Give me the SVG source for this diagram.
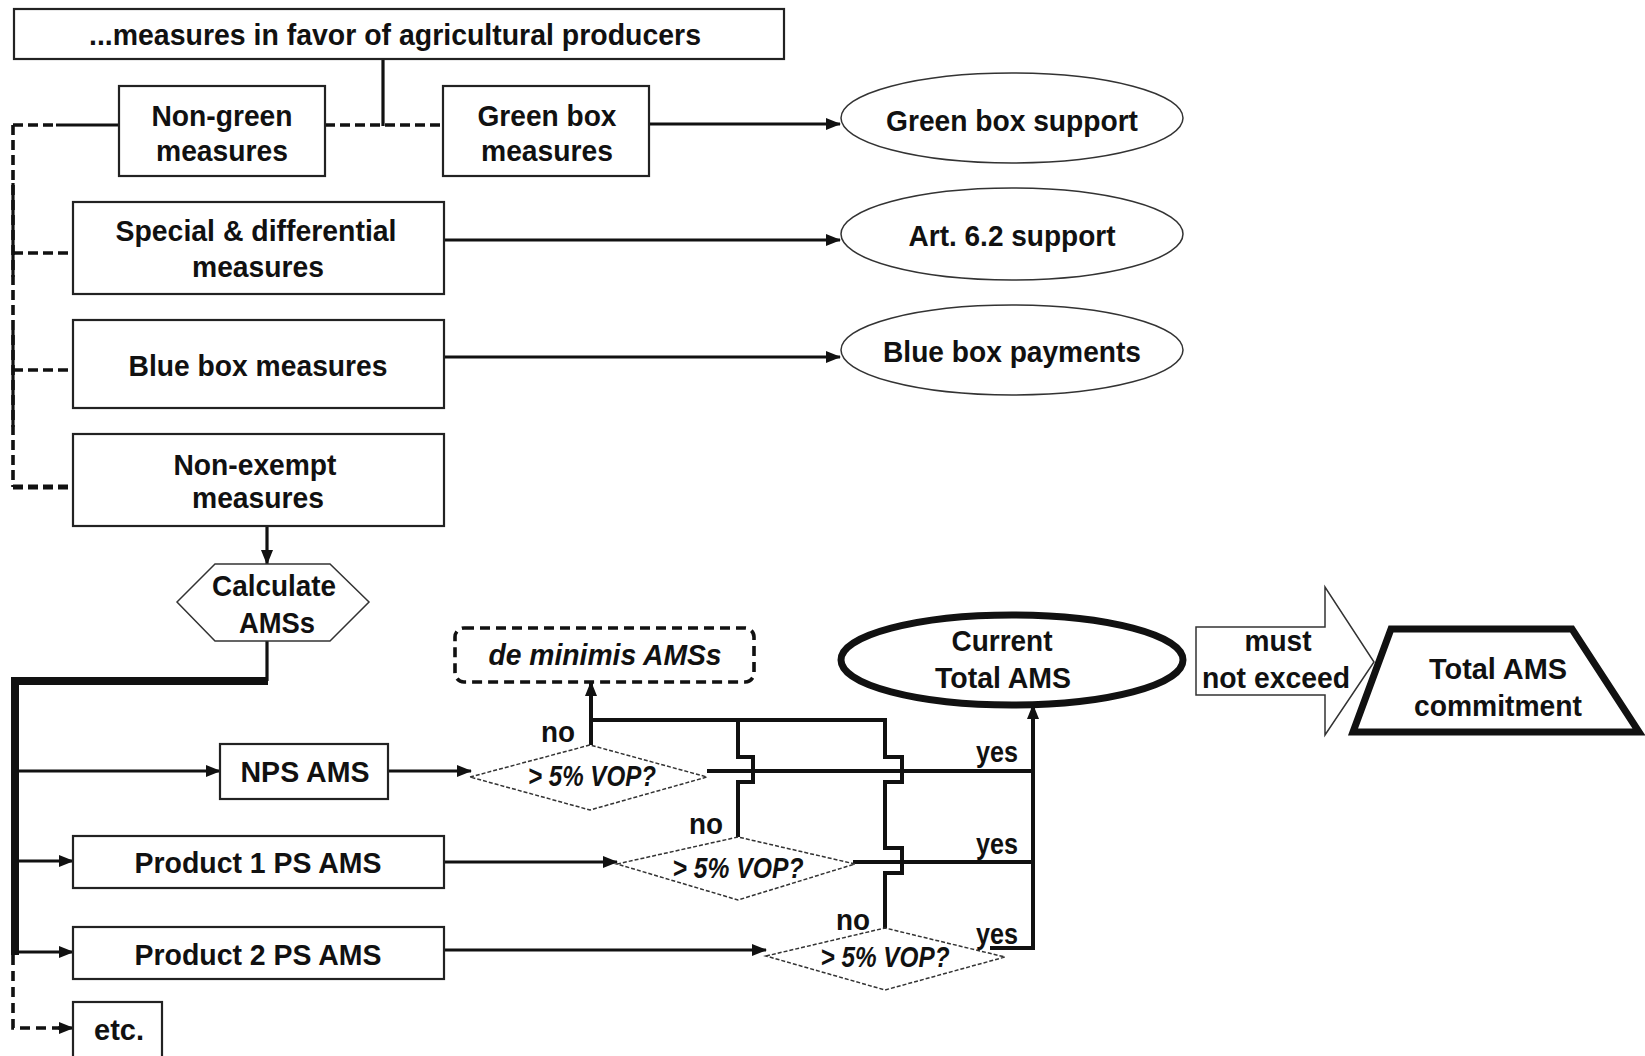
<svg xmlns="http://www.w3.org/2000/svg" width="1645" height="1056" viewBox="0 0 1645 1056">
<style>
.t{font-family:"Liberation Sans",Arial,sans-serif;font-weight:bold;font-size:30px;fill:#111;text-anchor:middle}
.i{font-style:italic}
.box{fill:#fff;stroke:#222;stroke-width:2.2}
.thin{fill:#fff;stroke:#333;stroke-width:1.5}
.dia{fill:#fff;stroke:#333;stroke-width:1.5;stroke-dasharray:4 2}
.ln{fill:none;stroke:#111;stroke-width:3.2}
.bl{fill:none;stroke:#111;stroke-width:4}
.ds{fill:none;stroke:#111;stroke-width:3.6;stroke-dasharray:10 5}
.ar{marker-end:url(#ah)}
</style>
<defs>
<marker id="ah" markerUnits="userSpaceOnUse" markerWidth="16" markerHeight="14" refX="14" refY="6" orient="auto">
<path d="M0,0 L15,6 L0,12 Z" fill="#111"/>
</marker>
</defs>
<rect width="1645" height="1056" fill="#fff"/>

<g id="connectors">
<path class="ln" d="M383,59 V126"/>
<path class="ds" d="M325,125 H443"/>
<path class="ds" d="M13,125 V487"/>
<path class="ln" d="M13,183 V277 M13,330 V427"/>
<path class="ds" d="M13,125 H56"/>
<path class="ln" d="M56,125 H119"/>
<path class="ds" d="M13,253 H73"/>
<path class="ds" d="M13,370 H73"/>
<path class="ds" d="M13,487 H73" style="stroke-width:5"/>
<path class="ln ar" d="M649,124 H840"/>
<path class="ln ar" d="M444,240 H840"/>
<path class="ln ar" d="M444,357 H840"/>
<path class="ln ar" d="M267,526 V564"/>
<path class="ln" d="M267,641 V681"/>
<path fill="none" stroke="#111" stroke-width="8" d="M268,681 H15 V955"/>
<path fill="none" stroke="#111" stroke-width="3.6" stroke-dasharray="10 6" d="M13,955 V1028 H60"/>
<path class="ln ar" d="M58,1028 H73"/>
<path class="ln ar" d="M19,771 H220"/>
<path class="ln ar" d="M19,861 H73"/>
<path class="ln ar" d="M19,952 H73"/>
<path class="ln ar" d="M388,771 H471"/>
<path class="ln ar" d="M444,862 H617"/>
<path class="ln ar" d="M444,950 H766"/>
<path class="bl ar" d="M591,745 V682"/>
<path class="bl" d="M591,720 H887"/>
<path class="bl" d="M738,720 V757 H753 V782 H738 V837"/>
<path class="bl" d="M885,720 V757 H902 V782 H885 V848 H902 V873 H885 V928"/>
<path class="bl" d="M707,771 H1033"/>
<path class="bl" d="M853,862 H1033"/>
<path class="bl" d="M990,948 H1033"/>
<path class="bl ar" d="M1033,950 V705"/>
</g>

<g id="n-top"><rect class="box" x="14" y="9" width="770" height="50"/>
<text class="t" x="395" y="45" font-size="28" textLength="612" lengthAdjust="spacingAndGlyphs">...measures in favor of agricultural producers</text></g>

<g id="n-nongreen"><rect class="box" x="119" y="86" width="206" height="90"/>
<text class="t" x="222" y="126" textLength="141" lengthAdjust="spacingAndGlyphs">Non-green</text>
<text class="t" x="222" y="161" textLength="132" lengthAdjust="spacingAndGlyphs">measures</text></g>

<g id="n-greenbox"><rect class="box" x="443" y="86" width="206" height="90"/>
<text class="t" x="547" y="126" textLength="139" lengthAdjust="spacingAndGlyphs">Green box</text>
<text class="t" x="547" y="161" textLength="132" lengthAdjust="spacingAndGlyphs">measures</text></g>

<g id="n-special"><rect class="box" x="73" y="202" width="371" height="92"/>
<text class="t" x="256" y="241" textLength="281" lengthAdjust="spacingAndGlyphs">Special &amp; differential</text>
<text class="t" x="258" y="277" textLength="132" lengthAdjust="spacingAndGlyphs">measures</text></g>

<g id="n-blue"><rect class="box" x="73" y="320" width="371" height="88"/>
<text class="t" x="258" y="376" font-size="32" textLength="259" lengthAdjust="spacingAndGlyphs">Blue box measures</text></g>

<g id="n-nonexempt"><rect class="box" x="73" y="434" width="371" height="92"/>
<text class="t" x="255" y="475" textLength="163" lengthAdjust="spacingAndGlyphs">Non-exempt</text>
<text class="t" x="258" y="508" textLength="132" lengthAdjust="spacingAndGlyphs">measures</text></g>

<g id="n-calc"><path class="thin" d="M177,602 L215,564 L330,564 L369,602 L330,641 L215,641 Z"/>
<text class="t" x="274" y="596" textLength="124" lengthAdjust="spacingAndGlyphs">Calculate</text>
<text class="t" x="277" y="633" textLength="76" lengthAdjust="spacingAndGlyphs">AMSs</text></g>

<g id="n-gbsupport"><ellipse class="thin" cx="1012" cy="118" rx="171" ry="45"/>
<text class="t" x="1012" y="131" textLength="252" lengthAdjust="spacingAndGlyphs">Green box support</text></g>

<g id="n-art62"><ellipse class="thin" cx="1012" cy="234" rx="171" ry="46"/>
<text class="t" x="1012" y="246" textLength="207" lengthAdjust="spacingAndGlyphs">Art. 6.2 support</text></g>

<g id="n-bbpay"><ellipse class="thin" cx="1012" cy="350" rx="171" ry="45"/>
<text class="t" x="1012" y="362" textLength="258" lengthAdjust="spacingAndGlyphs">Blue box payments</text></g>

<g id="n-deminimis"><rect x="455" y="628" width="299" height="54" rx="9" fill="#fff" stroke="#111" stroke-width="3.6" stroke-dasharray="10 6"/>
<text class="t i" x="605" y="665" font-size="28" textLength="233" lengthAdjust="spacingAndGlyphs">de minimis AMSs</text></g>

<g id="n-nps"><rect class="box" x="220" y="744" width="168" height="55"/>
<text class="t" x="305" y="782" textLength="129" lengthAdjust="spacingAndGlyphs">NPS AMS</text></g>

<g id="n-p1"><rect class="box" x="73" y="836" width="371" height="52"/>
<text class="t" x="258" y="873" textLength="247" lengthAdjust="spacingAndGlyphs">Product 1 PS AMS</text></g>

<g id="n-p2"><rect class="box" x="73" y="927" width="371" height="52"/>
<text class="t" x="258" y="965" textLength="247" lengthAdjust="spacingAndGlyphs">Product 2 PS AMS</text></g>

<g id="n-etc"><rect class="box" x="73" y="1002" width="89" height="62"/>
<text class="t" x="119" y="1040" textLength="50" lengthAdjust="spacingAndGlyphs">etc.</text></g>

<g id="n-d1"><path class="dia" d="M470,777 L590,745 L707,777 L590,810 Z"/>
<text class="t i" x="592" y="786" font-size="24" textLength="128" lengthAdjust="spacingAndGlyphs">&gt; 5% VOP?</text></g>

<g id="n-d2"><path class="dia" d="M617,864 L738,837 L855,864 L738,900 Z"/>
<text class="t i" x="738" y="878" font-size="24" textLength="131" lengthAdjust="spacingAndGlyphs">&gt; 5% VOP?</text></g>

<g id="n-d3"><path class="dia" d="M766,956 L885,928 L1005,957 L885,990 Z"/>
<text class="t i" x="885" y="967" font-size="24" textLength="129" lengthAdjust="spacingAndGlyphs">&gt; 5% VOP?</text></g>

<g id="labels">
<text class="t" x="558" y="742" font-size="30" textLength="34" lengthAdjust="spacingAndGlyphs">no</text>
<text class="t" x="706" y="834" font-size="30" textLength="34" lengthAdjust="spacingAndGlyphs">no</text>
<text class="t" x="853" y="930" font-size="30" textLength="34" lengthAdjust="spacingAndGlyphs">no</text>
<text class="t" x="997" y="762" font-size="27" textLength="42" lengthAdjust="spacingAndGlyphs">yes</text>
<text class="t" x="997" y="854" font-size="27" textLength="42" lengthAdjust="spacingAndGlyphs">yes</text>
<text class="t" x="997" y="944" font-size="27" textLength="42" lengthAdjust="spacingAndGlyphs">yes</text>
</g>

<g id="n-current"><ellipse cx="1012" cy="660" rx="171" ry="45" fill="#fff" stroke="#111" stroke-width="7"/>
<text class="t" x="1002" y="651" textLength="101" lengthAdjust="spacingAndGlyphs">Current</text>
<text class="t" x="1003" y="688" textLength="136" lengthAdjust="spacingAndGlyphs">Total AMS</text></g>

<g id="n-must"><path class="thin" d="M1196,627 H1325 V587 L1374,662 L1325,735 V695 H1196 Z"/>
<text class="t" x="1278" y="651" textLength="67" lengthAdjust="spacingAndGlyphs">must</text>
<text class="t" x="1276" y="688" textLength="148" lengthAdjust="spacingAndGlyphs">not exceed</text></g>

<g id="n-commit"><path d="M1391,629 H1572 L1639,732 H1353 Z" fill="#fff" stroke="#111" stroke-width="7"/>
<text class="t" x="1498" y="679" textLength="138" lengthAdjust="spacingAndGlyphs">Total AMS</text>
<text class="t" x="1498" y="716" textLength="168" lengthAdjust="spacingAndGlyphs">commitment</text></g>
</svg>
